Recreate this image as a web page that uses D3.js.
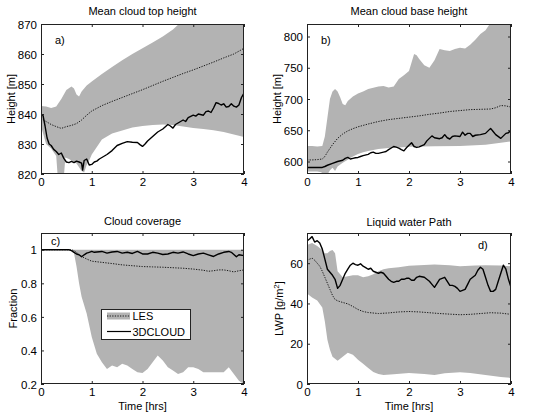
<!DOCTYPE html>
<html><head><meta charset="utf-8">
<script src="https://cdn.jsdelivr.net/npm/d3@7"></script>
<style>
body{margin:0;background:#fff;}
svg{display:block;font-family:"Liberation Sans",Arial,sans-serif;}
</style></head>
<body><svg id="chart" width="533" height="412"></svg>
<script>
// ---------------- DATA ----------------
const xTicks = [0,1,2,3,4];

// a) Mean cloud top height
const aBandUpper = [[0,842.7],[0.1,842.5],[0.2,842],[0.3,842.5],[0.4,845],[0.5,848],[0.6,849.2],[0.65,848.5],[0.7,846.5],[0.75,845.8],[0.8,847.5],[0.9,849.5],[1.0,850.8],[1.2,853.3],[1.4,855.7],[1.6,857.9],[1.8,860],[2.0,861.9],[2.2,863.8],[2.4,865.8],[2.6,868.2],[2.75,870.5],[3.0,872],[3.5,875],[4.0,878]];
const aBandLower = [[0,836],[0.05,833],[0.1,830],[0.2,828.5],[0.3,826],[0.33,819],[0.45,819],[0.48,825.5],[0.55,825],[0.6,824.5],[0.7,823.5],[0.8,821],[0.85,820.5],[0.9,823],[0.95,824.5],[1.0,826.5],[1.1,829],[1.2,831.5],[1.3,832.5],[1.4,833.5],[1.6,834.5],[1.8,835.5],[2.0,836],[2.2,836.3],[2.4,836.5],[2.6,836.3],[2.8,835.8],[3.0,835.3],[3.2,835],[3.4,834.6],[3.6,834],[3.8,833.2],[4.0,832.3]];
const aMeanLES = [[0,838.5],[0.1,837.5],[0.2,836.5],[0.3,835.8],[0.4,835.2],[0.5,835.8],[0.6,836.2],[0.7,836.8],[0.8,838],[0.9,839.6],[1.0,841],[1.2,842.8],[1.4,844.2],[1.6,845.5],[1.8,846.8],[2.0,848.1],[2.2,849.5],[2.4,850.9],[2.6,852.2],[2.8,853.5],[3.0,854.7],[3.2,856],[3.4,857.3],[3.6,858.7],[3.8,860],[4.0,861.9]];
const aCloud3D = [[0,840],[0.04,839.5],[0.08,836],[0.12,832],[0.16,830],[0.2,829.5],[0.25,828.2],[0.3,827.5],[0.35,826.5],[0.4,827],[0.45,825.2],[0.5,824],[0.55,823.8],[0.6,824.2],[0.65,823.8],[0.7,824.3],[0.75,824],[0.8,823.6],[0.82,821.3],[0.85,824.5],[0.9,825],[0.95,823],[1.0,823.2],[1.05,824],[1.1,824.3],[1.15,825],[1.2,825.5],[1.3,826.5],[1.4,827.8],[1.5,829.5],[1.6,830.2],[1.7,830.8],[1.8,830.6],[1.9,830.5],[1.95,829.8],[2.0,829.2],[2.05,830],[2.1,831],[2.2,832.5],[2.3,834],[2.4,835],[2.5,836.5],[2.55,836],[2.6,835.3],[2.65,836.5],[2.7,837],[2.8,838],[2.85,837.5],[2.9,838.8],[3.0,839.6],[3.05,839.3],[3.1,840],[3.2,839.6],[3.25,840.8],[3.3,841],[3.35,840.5],[3.4,842],[3.45,843.8],[3.5,843.5],[3.55,843],[3.6,843.4],[3.65,842.3],[3.7,842.5],[3.75,843.4],[3.8,842.6],[3.85,842.3],[3.9,843],[3.95,845.5],[4.0,847]];
const aYTicks = [820,830,840,850,860,870];

// b) Mean cloud base height
const bBandUpper = [[0,625],[0.1,625],[0.2,624],[0.3,625],[0.35,640],[0.4,670],[0.45,700],[0.5,712],[0.55,716],[0.6,712],[0.65,703],[0.7,692],[0.75,690],[0.8,697],[0.9,704],[1.0,709],[1.1,712],[1.2,716],[1.3,718],[1.4,720],[1.5,721],[1.6,718.5],[1.7,720],[1.8,732],[1.9,738],[2.0,745],[2.1,772],[2.15,770],[2.2,764],[2.3,754],[2.4,750],[2.5,762],[2.6,780],[2.7,778],[2.8,777],[2.9,780],[3.0,782],[3.1,781],[3.2,787],[3.3,795],[3.4,804],[3.5,810],[3.6,822],[4.0,830]];
const bBandLower = [[0,584],[0.2,584],[0.28,583],[0.32,579],[0.4,579],[0.45,586],[0.5,590],[0.55,585],[0.6,592],[0.7,598],[0.8,603],[0.9,608],[1.0,612],[1.1,615],[1.2,617],[1.4,620],[1.6,621.5],[1.8,622.5],[2.0,623.5],[2.5,624.5],[3.0,625],[3.5,627],[3.8,630],[4.0,632]];
const bMeanLES = [[0,602.5],[0.1,602.5],[0.2,603],[0.3,604],[0.35,608],[0.4,615],[0.5,627],[0.6,637],[0.7,644],[0.8,649],[0.9,652.5],[1.0,655.5],[1.2,660],[1.4,664],[1.6,667],[1.8,669],[2.0,671],[2.2,673],[2.4,675.5],[2.6,677.5],[2.8,680],[3.0,681.5],[3.2,683],[3.4,683.5],[3.6,684],[3.7,686],[3.8,689.5],[3.9,689],[4.0,687]];
const bCloud3D = [[0,590.5],[0.1,590.5],[0.2,590.5],[0.3,590.5],[0.35,592],[0.4,594],[0.5,597],[0.6,600],[0.7,602],[0.75,605],[0.8,606.5],[0.85,604],[0.9,605],[0.95,606],[1.0,606.5],[1.05,608],[1.1,609.5],[1.2,611.5],[1.25,614],[1.3,615],[1.35,613],[1.4,613],[1.5,615],[1.55,616],[1.6,619],[1.7,624],[1.75,623],[1.8,621.5],[1.85,619],[1.9,617],[1.95,622],[2.0,626],[2.05,630],[2.1,624],[2.15,622.5],[2.2,623.5],[2.3,627],[2.35,633],[2.45,641],[2.5,638],[2.6,636.5],[2.65,638],[2.7,643],[2.75,638],[2.8,636],[2.85,640],[2.9,641],[3.0,640],[3.05,647],[3.1,642],[3.15,645],[3.2,645],[3.25,640],[3.3,642],[3.4,643],[3.5,645],[3.55,649],[3.6,653],[3.65,648],[3.7,643],[3.8,637],[3.85,641],[3.9,645],[3.95,646],[4.0,650]];
const bYTicks = [600,650,700,750,800];

// c) Cloud coverage
const cBandUpper = [[0,1],[4,1]];
const cBandLower = [[0,1],[0.6,1],[0.65,0.98],[0.7,0.9],[0.75,0.8],[0.8,0.72],[0.9,0.62],[1.0,0.48],[1.1,0.38],[1.2,0.33],[1.3,0.29],[1.4,0.31],[1.5,0.3],[1.6,0.32],[1.7,0.31],[1.8,0.29],[1.9,0.27],[2.0,0.265],[2.1,0.29],[2.2,0.33],[2.3,0.37],[2.4,0.34],[2.5,0.3],[2.6,0.28],[2.7,0.26],[2.8,0.27],[2.9,0.3],[3.0,0.3],[3.1,0.29],[3.2,0.27],[3.3,0.27],[3.5,0.27],[3.6,0.27],[3.7,0.3],[3.8,0.26],[3.9,0.22],[4.0,0.2]];
const cMeanLES = [[0,1],[0.6,1],[0.65,0.995],[0.7,0.985],[0.75,0.97],[0.8,0.96],[0.9,0.945],[1.0,0.932],[1.2,0.925],[1.4,0.918],[1.6,0.91],[1.8,0.905],[2.0,0.9],[2.2,0.898],[2.4,0.896],[2.6,0.893],[2.8,0.89],[3.0,0.885],[3.2,0.878],[3.3,0.872],[3.4,0.875],[3.5,0.88],[3.6,0.88],[3.7,0.875],[3.8,0.868],[3.9,0.875],[4.0,0.88]];
const cCloud3D = [[0,1],[0.55,1],[0.6,0.995],[0.65,0.985],[0.7,0.975],[0.75,0.97],[0.8,0.958],[0.85,0.97],[0.9,0.98],[0.95,0.985],[1.0,0.99],[1.05,0.985],[1.1,0.987],[1.2,0.99],[1.3,0.98],[1.4,0.987],[1.5,0.99],[1.6,0.98],[1.7,0.985],[1.8,0.978],[1.9,0.99],[2.0,0.975],[2.1,0.975],[2.2,0.985],[2.3,0.98],[2.4,0.972],[2.5,0.975],[2.6,0.985],[2.7,0.98],[2.8,0.987],[2.9,0.975],[3.0,0.965],[3.1,0.975],[3.2,0.98],[3.3,0.97],[3.4,0.96],[3.5,0.975],[3.6,0.985],[3.7,0.99],[3.75,0.985],[3.8,0.972],[3.85,0.958],[3.9,0.97],[4.0,0.965]];
const cYTicks = [0.2,0.4,0.6,0.8,1];

// d) Liquid water path
const dBandUpper = [[0,69],[0.1,70],[0.2,68.5],[0.3,66.5],[0.35,65],[0.4,65],[0.45,66],[0.5,66.5],[0.55,65],[0.6,56],[0.7,53],[0.8,53.5],[0.9,54],[1.0,54],[1.1,53],[1.2,53.5],[1.3,54.5],[1.4,56],[1.5,57],[1.6,57.5],[1.8,58],[2.0,58.7],[2.2,59],[2.5,59.3],[2.8,59],[3.0,58.5],[3.3,58.8],[3.5,59],[3.8,58.8],[4.0,58.5]];
const dBandLower = [[0,45],[0.1,43],[0.2,41.5],[0.3,38],[0.35,31],[0.4,22],[0.45,17],[0.5,13.5],[0.6,11.5],[0.7,13.5],[0.8,15.5],[0.9,14.5],[1.0,12],[1.1,10],[1.2,8],[1.3,6],[1.4,5],[1.5,4.5],[1.7,4.8],[2.0,5.5],[2.3,5],[2.5,4.5],[2.7,5.3],[3.0,5.8],[3.2,5.5],[3.5,4.5],[3.8,3.5],[4.0,3]];
const dMeanLES = [[0,61.5],[0.05,62],[0.1,62.5],[0.15,61.5],[0.2,60],[0.25,58.5],[0.3,56],[0.35,53],[0.4,50],[0.45,47],[0.5,44],[0.55,42],[0.6,41.3],[0.7,40.5],[0.8,39.8],[0.9,38.5],[1.0,37],[1.1,36],[1.2,35.5],[1.4,35],[1.6,35.3],[1.8,35.8],[2.0,36],[2.2,35.8],[2.4,35.4],[2.6,35],[2.8,34.7],[3.0,34.4],[3.2,34.6],[3.4,35],[3.6,35.4],[3.8,35.2],[4.0,34.6]];
const dCloud3D = [[0,71],[0.05,72],[0.1,73.2],[0.15,70.5],[0.2,71.2],[0.25,70],[0.3,67],[0.35,62],[0.4,57],[0.45,55.5],[0.5,54],[0.55,52],[0.6,47.5],[0.65,49],[0.7,52],[0.75,55],[0.8,57],[0.85,59],[0.9,60],[0.95,59.3],[1.0,59],[1.05,59.7],[1.1,58.5],[1.15,57.8],[1.2,57],[1.25,57.5],[1.3,56],[1.35,55.5],[1.4,55],[1.45,55.5],[1.5,55],[1.55,53.5],[1.6,52],[1.65,51],[1.7,50.5],[1.75,51],[1.8,51],[1.85,52],[1.9,52],[1.95,52.5],[2.0,52.5],[2.05,51.5],[2.1,51.5],[2.15,53],[2.2,53.5],[2.3,53],[2.35,52],[2.4,51],[2.45,49.5],[2.5,48],[2.55,50],[2.6,52],[2.65,52.5],[2.7,53],[2.75,51],[2.8,49],[2.85,49],[2.9,48.5],[2.95,47.5],[3.0,46],[3.05,46.5],[3.1,47],[3.15,49.5],[3.2,52],[3.25,53],[3.3,54],[3.35,56.5],[3.4,58],[3.45,57],[3.5,53],[3.55,49],[3.6,46],[3.65,46],[3.7,47],[3.75,51],[3.8,55],[3.85,59],[3.9,57],[3.95,52],[4.0,48]];
const dYTicks = [0,20,40,60];

const legendLabels = ["LES","3DCLOUD"];

// ---------------- LAYOUT ----------------
const GRAY = "#b3b3b3";
const panels = [
  {key:"a", left:41, top:24, w:203, h:150, ydom:[820,870], yTicks:aYTicks, fmt:d=>d,
   title:"Mean cloud top height", ylabel:"Height [m]", ylabX:14.5, tag:"a)", tagX:55, tagY:44,
   up:aBandUpper, lo:aBandLower, mean:aMeanLES, sol:aCloud3D, xlabel:false, titleY:15},
  {key:"b", left:307, top:24, w:204, h:150, ydom:[580,820], yTicks:bYTicks, fmt:d=>d,
   title:"Mean cloud base height", ylabel:"Height [m]", ylabX:280.5, tag:"b)", tagX:321, tagY:44,
   up:bBandUpper, lo:bBandLower, mean:bMeanLES, sol:bCloud3D, xlabel:false, titleY:15},
  {key:"c", left:41, top:233, w:203, h:151, ydom:[0.2,1.1], yTicks:cYTicks, fmt:d=>d===1?"1":d.toFixed(1),
   title:"Cloud coverage", ylabel:"Fraction", ylabX:16.5, tag:"c)", tagX:51, tagY:245,
   up:cBandUpper, lo:cBandLower, mean:cMeanLES, sol:cCloud3D, xlabel:true, titleY:225},
  {key:"d", left:307, top:233, w:204, h:151, ydom:[0,75], yTicks:dYTicks, fmt:d=>d,
   title:"Liquid water Path", ylabel:"LWP [g/m", ylabX:282.5, tag:"d)", tagX:478, tagY:249,
   up:dBandUpper, lo:dBandLower, mean:dMeanLES, sol:dCloud3D, xlabel:true, titleY:226, sup:true}
];

const svg = d3.select("#chart");
const defs = svg.append("defs");

panels.forEach(p => {
  const x = d3.scaleLinear().domain([0,4]).range([p.left, p.left+p.w]);
  const y = d3.scaleLinear().domain(p.ydom).range([p.top+p.h, p.top]);
  const g = svg.append("g");

  defs.append("clipPath").attr("id","clip-"+p.key)
    .append("rect").attr("x",p.left).attr("y",p.top).attr("width",p.w).attr("height",p.h);

  const plot = g.append("g").attr("clip-path","url(#clip-"+p.key+")");
  const line = d3.line().x(d=>x(d[0])).y(d=>y(d[1]));

  // band: upper forwards, lower backwards
  const poly = p.up.concat(p.lo.slice().reverse());
  plot.append("path").attr("d", line(poly)+"Z").attr("fill",GRAY).attr("stroke","none");

  plot.append("path").attr("d", line(p.mean)).attr("fill","none")
    .attr("stroke","#1a1a1a").attr("stroke-width",1).attr("stroke-dasharray","1.3,1.3");
  plot.append("path").attr("d", line(p.sol)).attr("fill","none")
    .attr("stroke","#000").attr("stroke-width",1.4).attr("stroke-linejoin","round");

  // axes (inward ticks on all sides)
  const tl = 3;
  const axL = g.append("g").attr("transform",`translate(${p.left},0)`)
    .call(d3.axisLeft(y).tickValues(p.yTicks).tickSize(-tl).tickPadding(4).tickFormat(p.fmt));
  const axR = g.append("g").attr("transform",`translate(${p.left+p.w},0)`)
    .call(d3.axisRight(y).tickValues(p.yTicks).tickSize(-tl).tickFormat(""));
  const axB = g.append("g").attr("transform",`translate(0,${p.top+p.h})`)
    .call(d3.axisBottom(x).tickValues(xTicks).tickSize(-tl).tickPadding(3.5).tickFormat(d=>d));
  const axT = g.append("g").attr("transform",`translate(0,${p.top})`)
    .call(d3.axisTop(x).tickValues(xTicks).tickSize(-tl).tickFormat(""));
  [axL,axR,axB,axT].forEach(a=>{
    a.select(".domain").remove();
    a.selectAll(".tick line").attr("stroke","#222");
    a.selectAll("text").attr("font-size","11.5px").attr("fill","#000")
      .attr("font-family",'"Liberation Sans",Arial,sans-serif');
  });
  axL.selectAll("text").attr("dy","0.36em");
  // box
  g.append("rect").attr("x",p.left+0.5).attr("y",p.top+0.5).attr("width",p.w-1).attr("height",p.h-1)
    .attr("fill","none").attr("stroke","#222").attr("stroke-width",1);

  // title
  g.append("text").attr("x",p.left+p.w/2).attr("y",p.titleY).attr("text-anchor","middle")
    .attr("font-size","11px").text(p.title);
  // y label
  const yl = g.append("text").attr("transform",`translate(${p.ylabX},${p.top+p.h/2}) rotate(-90)`)
    .attr("text-anchor","middle").attr("font-size","11px").text(p.ylabel);
  if (p.sup) {
    yl.append("tspan").attr("dy","-4").attr("font-size","8px").text("2");
    yl.append("tspan").attr("dy","4").text("]");
  }
  // x label
  if (p.xlabel) {
    g.append("text").attr("x",p.left+p.w/2).attr("y",409.5).attr("text-anchor","middle")
      .attr("font-size","11px").text("Time [hrs]");
  }
  // panel tag
  g.append("text").attr("x",p.tagX).attr("y",p.tagY).attr("font-size","11px").text(p.tag);

  // legend in panel c
  if (p.key==="c") {
    const lg = g.append("g");
    lg.append("rect").attr("x",101.5).attr("y",309.5).attr("width",89).attr("height",30)
      .attr("fill","#fff").attr("stroke","#222").attr("stroke-width",1);
    lg.append("rect").attr("x",107).attr("y",312.5).attr("width",23).attr("height",7).attr("fill",GRAY);
    lg.append("line").attr("x1",107).attr("x2",130).attr("y1",316).attr("y2",316)
      .attr("stroke","#1a1a1a").attr("stroke-width",1).attr("stroke-dasharray","1.3,1.3");
    lg.append("line").attr("x1",107).attr("x2",131).attr("y1",331.5).attr("y2",331.5)
      .attr("stroke","#000").attr("stroke-width",1.2);
    lg.append("text").attr("x",132.5).attr("y",320).attr("font-size","11px").text(legendLabels[0]);
    lg.append("text").attr("x",132.5).attr("y",335.5).attr("font-size","11px").text(legendLabels[1]);
  }
});
</script>
</body></html>
